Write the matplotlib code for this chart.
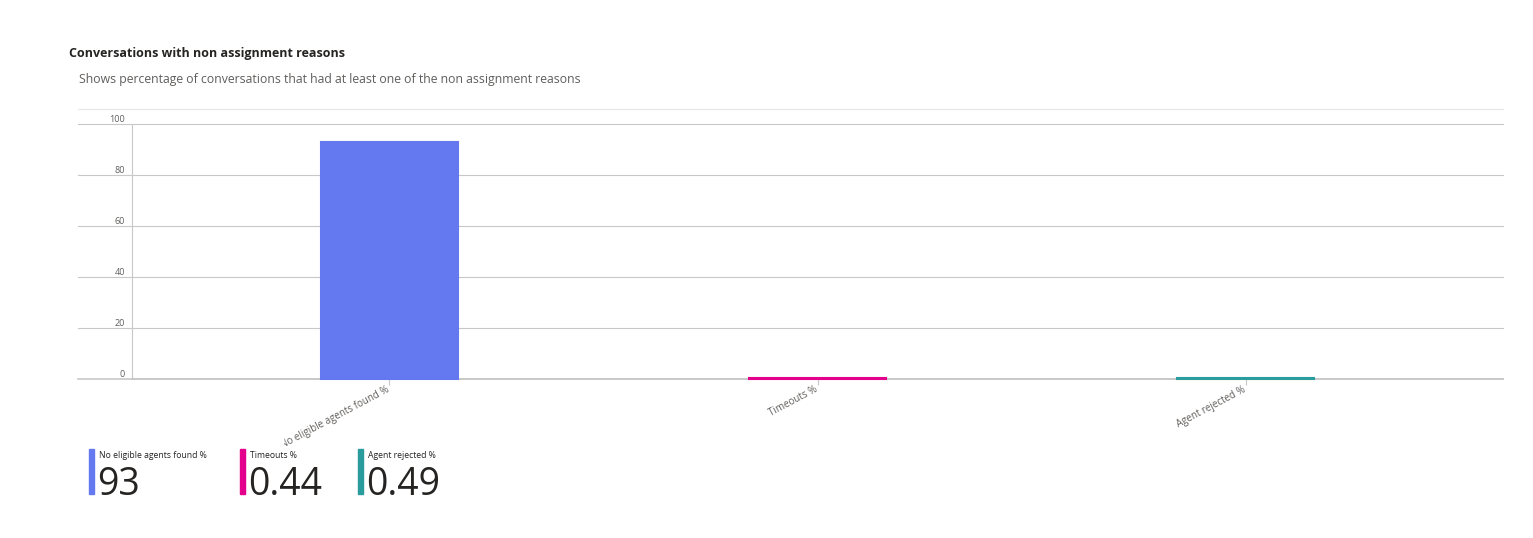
import matplotlib
matplotlib.use("Agg")
import matplotlib.pyplot as plt
from matplotlib.transforms import blended_transform_factory, ScaledTranslation

# data
categories = ["No eligible agents found %", "Timeouts %", "Agent rejected %"]
values = [93, 0.44, 0.49]
kpi_labels = ["93", "0.44", "0.49"]
colors = ["#6479f0", "#e3008c", "#2b9c9e"]
yticks = [0, 20, 40, 60, 80, 100]

W, H = 1533, 538
plt.rcParams["font.family"] = ["Open Sans", "DejaVu Sans"]

fig = plt.figure(figsize=(W / 100, H / 100), dpi=100)


def fx(px):
    return px / W


def fy(py):
    return 1 - py / H


# plot area
ax_l, ax_r, ax_t, ax_b = 132, 1503, 124, 379
ax = fig.add_axes([fx(ax_l), fy(ax_b), fx(ax_r - ax_l), fy(ax_t) - fy(ax_b)])
x = list(range(len(categories)))
ax.bar(x, values, width=0.32, color=colors, edgecolor=colors, linewidth=1.5,
       zorder=5, clip_on=False)
ax.set_xlim(-0.6, 2.6)
ax.set_ylim(0, 100)

for s in ["top", "right"]:
    ax.spines[s].set_visible(False)
ax.spines["left"].set_color("#c8c8c8")
ax.spines["left"].set_linewidth(0.8)
ax.spines["bottom"].set_color("#c8c8c8")
ax.spines["bottom"].set_linewidth(1.2)

# gridlines run out to the left under the tick labels
trans = blended_transform_factory(ax.transAxes, ax.transData)
x0 = (78 - ax_l) / (ax_r - ax_l)
for t in yticks[1:]:
    ax.plot([x0, 1], [t, t], color="#c8c8c8", lw=0.8, transform=trans,
            clip_on=False, zorder=1)
ax.plot([x0, 1], [0, 0], color="#c8c8c8", lw=1.2, transform=trans,
        clip_on=False, zorder=4)
# faint top border
top_y = (ax_b - 109) / (ax_b - ax_t) * 100
ax.plot([x0, 1], [top_y, top_y], color="#e6e6e6", lw=0.8, transform=trans,
        clip_on=False)

ax.set_yticks(yticks)
ax.set_yticklabels([str(t) for t in yticks], fontsize=6.5, color="#605e5c")
ax.tick_params(axis="y", length=0, pad=5)
for lab in ax.get_yticklabels():
    lab.set_va("bottom")

ax.set_xticks(x)
ax.set_xticklabels([])
ax.tick_params(axis="x", length=4, color="#c8c8c8")

# rotated category labels
off = ScaledTranslation(-3 / 100, -5 / 100, fig.dpi_scale_trans)
for i, cat in enumerate(categories):
    fig.text(i, 0, cat, transform=ax.get_xaxis_transform() + off,
             fontsize=7, color="#605e5c", rotation=28, ha="right", va="top",
             rotation_mode="anchor")
# the first label is cut off on its left side in the original
fig.patches.append(plt.Rectangle((fx(255), fy(447)), fx(28), fy(425) - fy(447),
                                 transform=fig.transFigure, color="white", zorder=10))

# title and subtitle
fig.text(fx(69), fy(54), "Conversations with non assignment reasons",
         fontsize=9, fontweight="bold", color="#252423", va="center")
fig.text(fx(79), fy(80),
         "Shows percentage of conversations that had at least one of the non assignment reasons",
         fontsize=8.8, color="#605e5c", va="center")

# KPI cards
card_x = [89, 240, 358]
for cx, lab, val, col in zip(card_x, categories, kpi_labels, colors):
    fig.patches.append(plt.Rectangle((fx(cx), fy(494)), fx(5), fy(449) - fy(494),
                                     transform=fig.transFigure, color=col))
    fig.text(fx(cx + 10), fy(455), lab, fontsize=6.2, color="#252423", va="center")
    fig.text(fx(cx + 8), fy(495), val, fontsize=27, color="#252423", va="baseline")

fig.savefig("out.png", dpi=100, facecolor="white")
